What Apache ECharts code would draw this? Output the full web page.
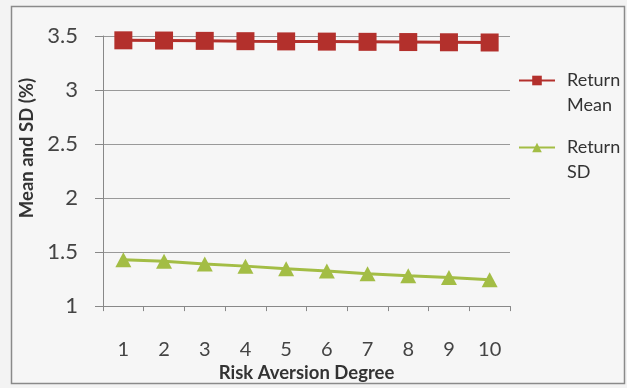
<!DOCTYPE html>
<html>
<head>
<meta charset="utf-8">
<script src="https://cdn.jsdelivr.net/npm/echarts@6/dist/echarts.min.js"></script>
<style>
  html, body { margin: 0; padding: 0; background: #f3f3f3; }
  #chart { width: 627px; height: 388px; }
</style>
</head>
<body>
<div id="chart"></div>
<script>
// Risk aversion degree categories
const degrees = ['1', '2', '3', '4', '5', '6', '7', '8', '9', '10'];
// Mean of returns (%)
const returnMean = [3.46, 3.458, 3.455, 3.452, 3.45, 3.448, 3.446, 3.444, 3.442, 3.44];
// Standard deviation of returns (%)
const returnSD = [1.43, 1.415, 1.39, 1.37, 1.345, 1.325, 1.30, 1.28, 1.265, 1.245];

const fontFamily = 'Lato, "Open Sans", sans-serif';
const chart = echarts.init(document.getElementById('chart'));

chart.setOption({
  backgroundColor: '#f3f3f3',
  animation: false,
  graphic: [{
    type: 'rect',
    shape: { x: 11.5, y: 6.5, width: 613, height: 377 },
    style: { fill: '#f6f6f6', stroke: '#8a8a8a', lineWidth: 1.5 },
    z: -10
  }],
  grid: { left: 103, right: 117, top: 36, bottom: 81 },
  legend: {
    orient: 'vertical',
    left: 513,
    top: 38,
    itemWidth: 36,
    itemHeight: 12,
    itemGap: -8,
    // leading blank line puts the first word level with the legend symbol
    formatter: name => '\n' + name,
    textStyle: {
      fontFamily, fontSize: 18, color: '#333',
      lineHeight: 25, padding: [0, 0, 0, 7]
    },
    data: ['Return\nMean', 'Return\nSD']
  },
  xAxis: {
    type: 'category',
    data: degrees,
    boundaryGap: true,
    name: 'Risk Aversion Degree',
    nameLocation: 'middle',
    nameGap: 56,
    nameTextStyle: { fontFamily, fontSize: 18.5, fontWeight: 'bold', color: '#333' },
    axisLine: { lineStyle: { color: '#888', width: 1 } },
    axisTick: { show: true, length: 5, lineStyle: { color: '#888' } },
    axisLabel: { fontFamily, fontSize: 20, color: '#444', margin: 33 }
  },
  yAxis: {
    type: 'value',
    min: 1,
    max: 3.5,
    interval: 0.5,
    name: 'Mean and SD (%)',
    nameLocation: 'middle',
    nameGap: 60,
    nameTextStyle: {
      fontFamily, fontSize: 18.5, fontWeight: 'bold', color: '#333',
      padding: [0, 0, 0, 46]
    },
    axisLine: { show: true, lineStyle: { color: '#888', width: 1 } },
    axisTick: { show: true, length: 8, lineStyle: { color: '#888' } },
    axisLabel: { fontFamily, fontSize: 22, color: '#444', margin: 25 },
    splitLine: { lineStyle: { color: '#999', width: 1 } }
  },
  series: [
    {
      name: 'Return\nMean',
      type: 'line',
      data: returnMean,
      symbol: 'rect',
      symbolSize: [18, 18],
      itemStyle: { color: '#b3302c' },
      lineStyle: { color: '#b3302c', width: 3 }
    },
    {
      name: 'Return\nSD',
      type: 'line',
      data: returnSD,
      symbol: 'triangle',
      symbolSize: [16, 15],
      itemStyle: { color: '#a3bd45' },
      lineStyle: { color: '#a3bd45', width: 3 }
    }
  ]
});
</script>
</body>
</html>
